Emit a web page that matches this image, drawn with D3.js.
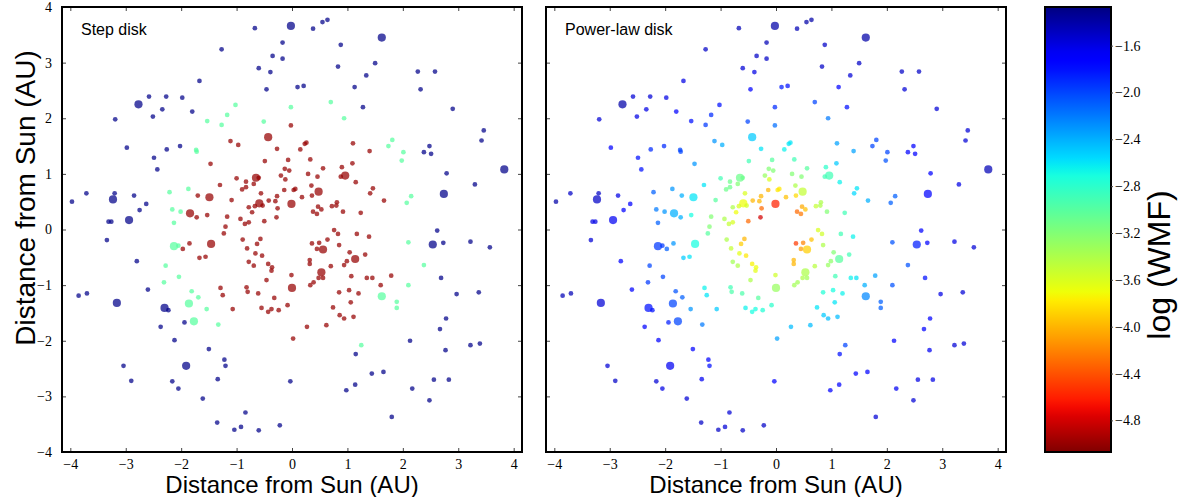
<!DOCTYPE html>
<html>
<head>
<meta charset="utf-8">
<script src="https://cdn.jsdelivr.net/npm/d3@7"></script>
<style>
  body { margin: 0; background: #fff; }
  .tick text { font-family: "Liberation Serif", "DejaVu Serif", serif; font-size: 14px; fill: #000; }
  .tick line { stroke: #444; stroke-width: 1; }
</style>
</head>
<body>
<script>
// planetesimal positions (AU)
var pointX = [
  -0.02,-0.67,-0.17,-0.35,-0.17,-1.27,-0.60,-0.39,-1.67,-0.46,
  -2.77,-2.58,-2.27,-1.98,-2.34,-2.51,-1.80,-3.19,-1.02,-0.02,
  -1.17,-1.53,-1.27,-0.51,-0.02,-0.43,-1.11,-0.97,-0.27,-2.98,
  -2.26,-2.02,-1.73,-1.72,-2.49,-2.43,-1.47,-0.07,-0.13,-0.05,
  -0.49,-0.20,-0.12,-0.65,-0.60,-1.00,-0.83,-0.69,-1.30,-0.90,
  -0.83,-0.14,-0.56,-1.49,-1.70,-1.09,-0.59,-0.78,-0.67,-0.53,
  -0.42,-0.30,-0.27,-0.01,-0.26,-0.72,-0.28,-0.50,-0.78,-0.85,
  -0.93,-1.17,-1.20,-1.53,-1.72,-1.84,-2.21,-1.87,-2.16,-2.01,
  -2.13,-3.71,-3.97,-3.20,-3.23,-2.85,-2.63,-2.75,-3.31,-3.26,
  -2.94,
  0.38,0.55,0.64,1.62,0.88,0.83,1.50,1.34,2.27,2.58,
  2.32,0.10,0.21,1.13,1.28,2.90,3.46,3.42,2.48,2.38,
  2.51,3.83,2.79,3.30,2.74,2.62,0.70,0.94,1.81,1.74,
  2.01,1.98,2.15,2.07,0.26,0.23,0.15,1.10,1.40,0.33,
  0.56,0.90,1.09,0.29,0.46,0.88,0.96,1.15,0.35,0.03,
  0.06,0.48,0.36,0.18,1.46,1.41,1.66,0.81,0.80,0.72,
  0.47,0.53,0.38,0.45,0.92,1.24,0.76,
  -1.23,-3.34,-2.13,-2.05,-1.85,-1.97,-1.46,-1.67,-1.56,-0.89,
  -0.57,-0.63,-0.81,-0.66,-0.54,-0.78,-0.69,-0.43,-0.36,-0.37,
  -0.01,-0.46,0.00,-1.29,-1.25,-0.82,-0.80,-0.61,-0.32,-0.55,
  -0.43,-0.37,-0.24,-0.08,-1.07,0.02,-2.28,-2.04,-2.31,-1.81,
  -1.69,-1.86,-1.54,-1.77,-1.33,-2.80,-3.85,-3.70,-2.60,-3.16,
  -2.30,-2.23,-2.37,-1.94,-2.12,-1.50,-1.22,-1.20,-1.91,-3.04,
  -2.90,-2.16,-2.05,-1.34,-1.61,-0.03,-0.84,-1.35,-1.04,-0.92,
  -0.60,-0.22,
  0.83,1.17,1.39,0.36,0.49,0.64,0.85,0.45,0.56,1.14,
  1.04,0.99,0.94,1.32,0.32,0.32,0.70,0.53,0.48,0.56,
  0.39,0.33,1.07,1.35,1.45,1.79,1.60,1.03,0.85,1.20,
  1.06,0.74,0.86,0.94,1.11,0.62,0.27,2.10,2.38,2.10,
  1.62,1.89,1.89,1.25,2.54,2.73,3.22,3.57,2.69,2.97,
  3.37,2.78,2.67,2.13,2.77,3.22,3.39,1.15,1.44,1.65,
  0.98,1.14,2.17,2.56,2.83,2.48,1.80
];
var pointY = [
  3.66,3.62,3.36,3.12,3.07,3.24,2.90,2.83,2.67,2.52,
  2.25,2.39,2.39,2.37,2.16,2.03,2.12,1.98,2.24,2.20,
  2.06,1.95,1.88,1.94,1.87,1.66,1.59,1.52,1.45,1.47,
  1.44,1.50,1.43,1.40,1.29,1.08,1.18,1.25,1.09,1.06,
  1.23,0.97,0.90,0.93,0.93,0.92,0.86,0.82,0.80,0.72,
  0.76,0.71,0.65,0.58,0.61,0.53,0.47,0.40,0.42,0.43,
  0.52,0.51,0.60,0.46,0.38,0.31,0.22,0.15,0.13,0.10,
  0.19,0.23,0.05,0.26,0.22,0.29,0.67,0.73,0.36,0.32,
  0.12,0.65,0.50,0.65,0.54,0.61,0.46,0.35,0.14,0.14,
  0.17,
  3.61,3.73,3.77,3.45,3.32,2.93,2.99,2.77,2.84,2.84,
  2.52,2.56,2.58,2.56,2.20,2.17,1.78,1.60,1.50,1.39,
  1.36,1.08,1.01,0.81,0.64,-0.02,2.29,2.00,1.61,1.50,
  1.39,1.24,0.60,0.48,1.56,1.54,1.44,1.55,1.41,1.26,
  1.10,1.12,1.19,1.00,0.95,0.95,0.97,0.85,0.79,0.71,
  0.73,0.68,0.61,0.58,0.74,0.65,0.52,0.49,0.43,0.42,
  0.41,0.36,0.32,0.28,0.32,0.30,-0.01,
  -0.07,-0.19,-0.30,-0.29,-0.25,-0.35,-0.26,-0.51,-0.49,-0.18,
  -0.17,-0.26,-0.34,-0.43,-0.47,-0.58,-0.65,-0.62,-0.68,-0.74,
  -0.82,-0.91,-1.05,-1.05,-1.18,-1.04,-1.12,-1.15,-1.23,-1.41,
  -1.48,-1.43,-1.45,-1.36,-1.43,-1.96,-0.65,-0.85,-0.95,-1.11,
  -1.22,-1.33,-1.43,-1.65,-1.71,-0.57,-1.19,-1.15,-1.08,-1.32,
  -1.41,-1.45,-1.75,-1.67,-1.99,-2.15,-2.34,-2.45,-2.45,-2.45,
  -2.72,-2.73,-2.86,-2.69,-3.04,-2.73,-3.29,-3.47,-3.60,-3.55,
  -3.61,-3.52,
  -0.08,-0.08,-0.13,-0.25,-0.24,-0.18,-0.28,-0.35,-0.36,-0.53,
  -0.41,-0.57,-0.64,-0.45,-0.55,-0.62,-0.66,-0.77,-0.87,-0.87,
  -0.95,-1.00,-0.84,-0.87,-0.87,-0.83,-1.00,-1.09,-1.13,-1.15,
  -1.31,-1.40,-1.54,-1.60,-1.57,-1.72,-1.75,-0.23,-0.64,-1.00,
  -1.20,-1.30,-1.41,-2.08,-0.27,-0.24,-0.22,-0.32,-0.87,-1.16,
  -1.13,-1.60,-1.79,-2.00,-2.17,-2.08,-2.05,-2.24,-2.59,-2.56,
  -2.89,-2.79,-2.86,-2.70,-2.70,-3.07,-3.37
];
// marker area (20 = small body, 60 = large body)
var pointSize = [
  60,20,20,20,20,20,20,20,20,20,
  60,20,20,20,20,20,20,20,20,20,
  20,20,20,20,20,60,20,20,20,20,
  20,20,20,20,20,20,20,20,20,20,
  20,20,20,60,20,20,20,20,20,20,
  20,20,20,60,20,20,60,20,20,20,
  20,20,20,60,20,20,20,20,20,20,
  20,20,20,20,20,60,20,20,20,20,
  20,20,20,20,60,20,20,20,20,20,
  60,
  20,20,20,60,20,20,20,20,20,20,
  20,20,20,20,20,20,20,20,20,20,
  20,60,20,20,60,20,20,20,20,20,
  20,20,20,20,20,20,20,20,20,20,
  20,20,20,20,20,20,60,20,20,20,
  20,60,20,20,20,20,20,20,20,20,
  20,20,20,20,20,20,20,
  20,20,60,20,20,20,60,20,20,20,
  20,20,20,20,20,20,20,20,20,20,
  20,20,60,20,20,20,20,20,20,20,
  20,20,20,20,20,20,20,20,20,20,
  20,60,20,60,20,20,20,20,20,60,
  60,20,20,20,20,20,20,20,60,20,
  20,20,20,20,20,20,20,20,20,20,
  20,20,
  20,20,20,20,20,20,20,20,60,60,
  20,20,20,20,20,20,20,60,20,20,
  20,20,20,20,20,20,20,20,20,20,
  20,20,20,20,20,20,20,20,20,20,
  60,20,20,20,60,20,20,20,20,20,
  20,20,20,20,20,20,20,20,20,20,
  20,20,20,20,20,20,20
];
// log(WMF), step disk model
var stepLogWMF = [
  -1.3,-1.3,-1.3,-1.3,-1.3,-1.3,-1.3,-1.3,-1.3,-1.3,
  -1.3,-1.3,-1.3,-1.3,-1.3,-1.3,-1.3,-1.3,-3.0,-3.0,
  -3.0,-3.0,-3.0,-3.0,-5.0,-5.0,-5.0,-5.0,-5.0,-1.3,
  -1.3,-1.3,-3.0,-3.0,-1.3,-1.3,-5.0,-5.0,-5.0,-5.0,
  -5.0,-5.0,-5.0,-5.0,-5.0,-5.0,-5.0,-5.0,-5.0,-5.0,
  -5.0,-5.0,-5.0,-5.0,-5.0,-5.0,-5.0,-5.0,-5.0,-5.0,
  -5.0,-5.0,-5.0,-5.0,-5.0,-5.0,-5.0,-5.0,-5.0,-5.0,
  -5.0,-5.0,-5.0,-5.0,-5.0,-5.0,-3.0,-3.0,-3.0,-3.0,
  -3.0,-1.3,-1.3,-1.3,-1.3,-1.3,-1.3,-1.3,-1.3,-1.3,
  -1.3,
  -1.3,-1.3,-1.3,-1.3,-1.3,-1.3,-1.3,-1.3,-1.3,-1.3,
  -1.3,-1.3,-1.3,-1.3,-1.3,-1.3,-1.3,-1.3,-1.3,-1.3,
  -1.3,-1.3,-1.3,-1.3,-1.3,-1.3,-3.0,-3.0,-3.0,-3.0,
  -3.0,-3.0,-3.0,-3.0,-5.0,-5.0,-5.0,-5.0,-5.0,-5.0,
  -5.0,-5.0,-5.0,-5.0,-5.0,-5.0,-5.0,-5.0,-5.0,-5.0,
  -5.0,-5.0,-5.0,-5.0,-5.0,-5.0,-5.0,-5.0,-5.0,-5.0,
  -5.0,-5.0,-5.0,-5.0,-5.0,-5.0,-5.0,
  -5.0,-1.3,-3.0,-3.0,-5.0,-5.0,-5.0,-5.0,-5.0,-5.0,
  -5.0,-5.0,-5.0,-5.0,-5.0,-5.0,-5.0,-5.0,-5.0,-5.0,
  -5.0,-5.0,-5.0,-5.0,-5.0,-5.0,-5.0,-5.0,-5.0,-5.0,
  -5.0,-5.0,-5.0,-5.0,-5.0,-5.0,-3.0,-3.0,-3.0,-3.0,
  -3.0,-3.0,-3.0,-3.0,-3.0,-1.3,-1.3,-1.3,-1.3,-1.3,
  -1.3,-1.3,-1.3,-1.3,-1.3,-1.3,-1.3,-1.3,-1.3,-1.3,
  -1.3,-1.3,-1.3,-1.3,-1.3,-1.3,-1.3,-1.3,-1.3,-1.3,
  -1.3,-1.3,
  -5.0,-5.0,-5.0,-5.0,-5.0,-5.0,-5.0,-5.0,-5.0,-5.0,
  -5.0,-5.0,-5.0,-5.0,-5.0,-5.0,-5.0,-5.0,-5.0,-5.0,
  -5.0,-5.0,-5.0,-5.0,-5.0,-5.0,-5.0,-5.0,-5.0,-5.0,
  -5.0,-5.0,-5.0,-5.0,-5.0,-5.0,-5.0,-3.0,-3.0,-3.0,
  -3.0,-3.0,-3.0,-3.0,-1.3,-1.3,-1.3,-1.3,-1.3,-1.3,
  -1.3,-1.3,-1.3,-1.3,-1.3,-1.3,-1.3,-1.3,-1.3,-1.3,
  -1.3,-1.3,-1.3,-1.3,-1.3,-1.3,-1.3
];
// log(WMF), power-law disk model
var powerLogWMF = [
  -1.4,-1.45,-1.45,-1.5,-1.5,-1.5,-1.55,-1.6,-1.6,-1.7,
  -1.4,-1.55,-1.55,-1.6,-1.6,-1.6,-1.7,-1.55,-1.8,-1.9,
  -1.9,-1.8,-1.95,-2.0,-2.15,-2.5,-2.3,-2.4,-2.6,-1.7,
  -1.9,-1.9,-2.0,-2.0,-1.8,-1.8,-2.3,-3.0,-3.2,-3.2,
  -2.9,-3.3,-3.6,-3.1,-3.1,-2.9,-3.1,-3.2,-2.6,-3.1,
  -3.1,-4.0,-3.6,-2.6,-2.4,-3.0,-3.7,-3.4,-3.6,-3.6,
  -4.0,-4.0,-4.0,-4.6,-4.3,-3.7,-4.8,-4.3,-3.6,-3.5,
  -3.4,-3.2,-3.2,-2.7,-2.4,-2.4,-2.1,-2.3,-2.2,-2.3,
  -2.1,-1.5,-1.4,-1.5,-1.5,-1.6,-1.7,-1.7,-1.6,-1.6,
  -1.65,
  -1.45,-1.4,-1.4,-1.4,-1.5,-1.5,-1.5,-1.55,-1.5,-1.5,
  -1.55,-1.85,-1.8,-1.75,-1.8,-1.55,-1.55,-1.55,-1.7,-1.75,
  -1.7,-1.45,-1.7,-1.6,-1.75,-1.7,-2.0,-2.2,-2.0,-2.0,
  -2.0,-2.05,-2.1,-2.1,-2.6,-2.6,-2.65,-2.35,-2.35,-2.9,
  -3.0,-2.8,-2.5,-3.2,-3.2,-2.9,-2.9,-2.65,-3.4,-3.8,
  -3.8,-3.5,-3.85,-3.95,-2.6,-2.55,-2.4,-3.4,-3.4,-3.5,
  -4.05,-3.95,-4.3,-4.25,-3.2,-2.9,-3.6,
  -3.0,-1.55,-1.95,-1.95,-2.3,-2.1,-2.7,-2.5,-2.6,-3.4,
  -4.0,-3.9,-3.5,-3.65,-3.8,-3.35,-3.4,-3.75,-3.7,-3.65,
  -3.55,-3.4,-3.3,-2.65,-2.6,-2.9,-2.95,-2.95,-3.0,-2.65,
  -2.7,-2.7,-2.75,-2.8,-2.5,-2.35,-2.0,-2.0,-1.95,-2.05,
  -2.1,-2.0,-2.3,-2.0,-2.2,-1.75,-1.45,-1.45,-1.75,-1.55,
  -1.8,-1.8,-1.75,-1.85,-1.75,-1.75,-1.75,-1.8,-1.65,-1.55,
  -1.5,-1.55,-1.6,-1.65,-1.55,-1.7,-1.55,-1.5,-1.5,-1.55,
  -1.5,-1.5,
  -3.55,-2.9,-2.65,-4.5,-4.2,-3.95,-3.4,-4.1,-3.9,-3.0,
  -3.2,-3.25,-3.3,-2.9,-4.0,-4.0,-3.45,-3.4,-3.4,-3.35,
  -3.35,-3.35,-2.9,-2.65,-2.6,-2.35,-2.4,-2.7,-2.75,-2.65,
  -2.6,-2.6,-2.5,-2.45,-2.45,-2.45,-2.45,-2.05,-2.05,-2.05,
  -2.25,-2.1,-2.1,-2.0,-1.85,-1.75,-1.6,-1.55,-1.8,-1.6,
  -1.55,-1.7,-1.75,-1.75,-1.65,-1.55,-1.55,-1.8,-1.75,-1.75,
  -1.7,-1.75,-1.65,-1.6,-1.6,-1.55,-1.55
];

var axisTicks = [-4, -3, -2, -1, 0, 1, 2, 3, 4];
var colorbarTicks = [-1.6, -2.0, -2.4, -2.8, -3.2, -3.6, -4.0, -4.4, -4.8];
var wmfRange = [-5.07, -1.27];
var panelTitles = ["Step disk", "Power-law disk"];
var panelValues = [stepLogWMF, powerLogWMF];

function draw() {
    var w = 1179, h = 497;
    var plotTop = 7, plotBottom = 452, panelW = 460;
    var panelX = [62, 546];
    var sans = "'Liberation Sans', Arial, sans-serif";

    var svg = d3.select("body").append("svg")
        .attr("width", w)
        .attr("height", h);

    // reversed jet colour map: high WMF -> dark blue, low WMF -> dark red
    var jetR = d3.scaleLinear().domain([0, 0.35, 0.66, 0.89, 1]).range([0, 0, 1, 1, 0.5]).clamp(true);
    var jetG = d3.scaleLinear().domain([0, 0.125, 0.375, 0.64, 0.91, 1]).range([0, 0, 1, 1, 0, 0]).clamp(true);
    var jetB = d3.scaleLinear().domain([0, 0.11, 0.34, 0.65, 1]).range([0.5, 1, 1, 0, 0]).clamp(true);
    function jet(t) { return d3.rgb(255 * jetR(t), 255 * jetG(t), 255 * jetB(t)).toString(); }
    var tScale = d3.scaleLinear().domain([wmfRange[1], wmfRange[0]]).range([0, 1]).clamp(true);
    function wmfColor(v) { return jet(tScale(v)); }

    var rScale = d3.scaleSqrt().domain([0, 60]).range([0, 4.1]);

    var points = pointX.map(function(x, i) { return { x: x, y: pointY[i], s: pointSize[i], i: i }; });

    var yScale = d3.scaleLinear().domain([-4, 4]).range([plotBottom, plotTop]);

    panelX.forEach(function(x0, p) {
        var xScale = d3.scaleLinear().domain([-4.15, 4.15]).range([x0, x0 + panelW]);
        var g = svg.append("g");

        // points
        g.append("g").selectAll("circle")
            .data(points)
            .enter().append("circle")
            .attr("cx", function(d) { return xScale(d.x); })
            .attr("cy", function(d) { return yScale(d.y); })
            .attr("r", function(d) { return rScale(d.s); })
            .attr("fill", function(d) { return wmfColor(panelValues[p][d.i]); })
            .attr("fill-opacity", 0.72);

        // inward ticks on all four sides
        g.append("g").attr("transform", "translate(0," + plotBottom + ")")
            .call(d3.axisBottom(xScale).tickValues(axisTicks).tickSize(-4).tickPadding(7));
        g.append("g").attr("transform", "translate(0," + plotTop + ")")
            .call(d3.axisTop(xScale).tickValues(axisTicks).tickSize(-4).tickFormat(""));
        g.append("g").attr("transform", "translate(" + x0 + ",0)")
            .call(d3.axisLeft(yScale).tickValues(axisTicks).tickSize(-4).tickPadding(10)
                .tickFormat(p === 0 ? d3.format("d") : ""));
        g.append("g").attr("transform", "translate(" + (x0 + panelW) + ",0)")
            .call(d3.axisRight(yScale).tickValues(axisTicks).tickSize(-4).tickFormat(""));
        g.selectAll(".domain").remove();

        // frame
        g.append("rect")
            .attr("x", x0).attr("y", plotTop)
            .attr("width", panelW).attr("height", plotBottom - plotTop)
            .attr("fill", "none").attr("stroke", "#000").attr("stroke-width", 2);

        g.append("text")
            .attr("x", x0 + 19).attr("y", 35)
            .attr("font-family", sans).attr("font-size", 16)
            .text(panelTitles[p]);

        g.append("text")
            .attr("x", x0 + panelW / 2).attr("y", 493)
            .attr("text-anchor", "middle")
            .attr("font-family", sans).attr("font-size", 24)
            .text("Distance from Sun (AU)");
    });

    svg.append("text")
        .attr("transform", "translate(35,198) rotate(-90)")
        .attr("text-anchor", "middle")
        .attr("font-family", sans).attr("font-size", 28)
        .text("Distance from Sun (AU)");

    // colour bar
    var cbX = 1045, cbW = 66;
    var cbScale = d3.scaleLinear().domain(wmfRange).range([plotBottom, plotTop]);
    var grad = svg.append("defs").append("linearGradient")
        .attr("id", "jetGrad")
        .attr("x1", 0).attr("y1", 0).attr("x2", 0).attr("y2", 1);
    grad.selectAll("stop")
        .data(d3.range(0, 1.0001, 0.02))
        .enter().append("stop")
        .attr("offset", function(t) { return t; })
        .attr("stop-color", function(t) { return jet(t); });

    svg.append("rect")
        .attr("x", cbX).attr("y", plotTop)
        .attr("width", cbW).attr("height", plotBottom - plotTop)
        .attr("fill", "url(#jetGrad)")
        .attr("stroke", "#000").attr("stroke-width", 2);

    svg.append("g")
        .attr("transform", "translate(" + (cbX + cbW) + ",0)")
        .call(d3.axisRight(cbScale).tickValues(colorbarTicks).tickSize(2).tickPadding(2)
            .tickFormat(d3.format(".1f")))
        .select(".domain").remove();

    svg.append("text")
        .attr("transform", "translate(1170,265) rotate(-90)")
        .attr("text-anchor", "middle")
        .attr("font-family", sans).attr("font-size", 32)
        .text("log (WMF)");
}

draw();
</script>
</body>
</html>
